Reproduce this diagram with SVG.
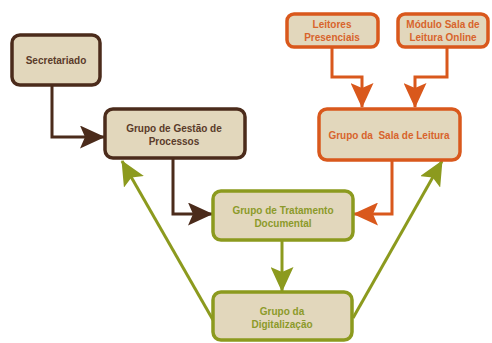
<svg xmlns="http://www.w3.org/2000/svg" width="492" height="343" viewBox="0 0 492 343">
<defs>
<style>
.box{fill:#e2d7bc;stroke-width:3.5}
.br{stroke:#4b2b1b}
.or{stroke:#d9581c}
.gr{stroke:#8c9a1e}
text{font-family:"Liberation Sans",Arial,sans-serif;font-weight:bold;font-size:10px;text-anchor:middle}
.tbr{fill:#5a3b2a}
.tor{fill:#d8642c}
.tgr{fill:#8c9a2a}
.c{fill:none;stroke-width:3;stroke-linejoin:miter}
</style>
<marker id="mbr" markerUnits="userSpaceOnUse" markerWidth="25" markerHeight="23" refX="24" refY="11.5" orient="auto"><path d="M0,0 L25,11.5 L0,23 L5,11.5 Z" fill="#4b2b1b"/></marker>
<marker id="mor" markerUnits="userSpaceOnUse" markerWidth="25" markerHeight="23" refX="24" refY="11.5" orient="auto"><path d="M0,0 L25,11.5 L0,23 L5,11.5 Z" fill="#d9581c"/></marker>
<marker id="mgr" markerUnits="userSpaceOnUse" markerWidth="25" markerHeight="23" refX="24" refY="11.5" orient="auto"><path d="M0,0 L25,11.5 L0,23 L5,11.5 Z" fill="#8c9a1e"/></marker>
</defs>
<rect width="492" height="343" fill="#ffffff"/>
<g id="connectors">
<path class="c br" d="M52,85 V137 H104" stroke="#4b2b1b" marker-end="url(#mbr)"/>
<path class="c br" d="M173,158 V214 H212" stroke="#4b2b1b" marker-end="url(#mbr)"/>
<path class="c or" d="M332,47 V77 H362 V107" stroke="#d9581c" marker-end="url(#mor)"/>
<path class="c or" d="M447,47 V77 H415 V107" stroke="#d9581c" marker-end="url(#mor)"/>
<path class="c or" d="M392,160 V214 H354" stroke="#d9581c" marker-end="url(#mor)"/>
<path class="c gr" d="M282,240 V291" stroke="#8c9a1e" marker-end="url(#mgr)"/>
<path class="c gr" d="M213,320 L122,161" stroke="#8c9a1e" marker-end="url(#mgr)"/>
<path class="c gr" d="M353,318 L442,161" stroke="#8c9a1e" marker-end="url(#mgr)"/>
</g>
<g id="secretariado">
<rect class="box br" x="12" y="35" width="88" height="50" rx="8"/>
<text class="tbr" x="56" y="64">Secretariado</text>
</g>
<g id="gestao">
<rect class="box br" x="105" y="109" width="140" height="49" rx="8"/>
<text class="tbr" x="174" y="132">Grupo de Gestão de</text>
<text class="tbr" x="174" y="145">Processos</text>
</g>
<g id="leitores">
<rect class="box or" x="287" y="14" width="91" height="33" rx="7"/>
<text class="tor" x="332" y="28">Leitores</text>
<text class="tor" x="332" y="41">Presenciais</text>
</g>
<g id="modulo">
<rect class="box or" x="398" y="14" width="90" height="33" rx="7"/>
<text class="tor" x="443" y="28">Módulo Sala de</text>
<text class="tor" x="443" y="41">Leitura Online</text>
</g>
<g id="sala">
<rect class="box or" x="319" y="109" width="141" height="51" rx="8"/>
<text class="tor" x="389" y="139">Grupo da&#160; Sala de Leitura</text>
</g>
<g id="tratamento">
<rect class="box gr" x="213" y="191" width="140" height="49" rx="8"/>
<text class="tgr" x="283" y="214">Grupo de Tratamento</text>
<text class="tgr" x="283" y="227">Documental</text>
</g>
<g id="digitalizacao">
<rect class="box gr" x="213" y="292" width="139" height="48" rx="8"/>
<text class="tgr" x="282" y="315">Grupo da</text>
<text class="tgr" x="282" y="328">Digitalização</text>
</g>
</svg>
